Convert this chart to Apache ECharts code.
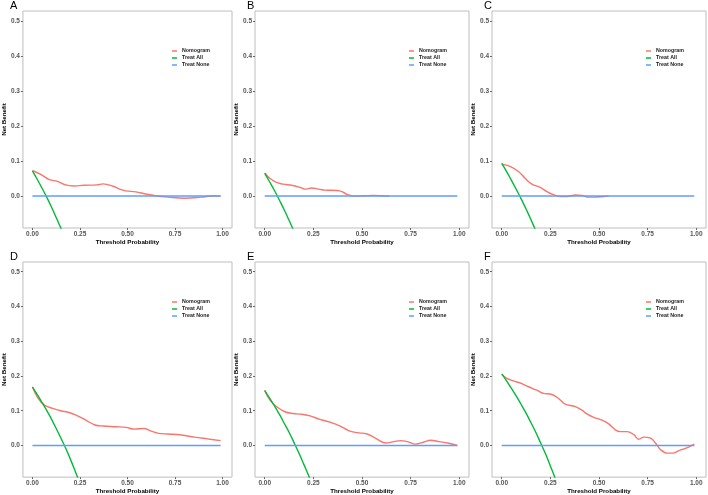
<!DOCTYPE html>
<html>
<head>
<meta charset="utf-8">
<script src="https://cdn.jsdelivr.net/npm/echarts@6/dist/echarts.min.js"></script>
<style>
html,body{margin:0;padding:0;background:#fff;}
#c{width:708px;height:495px;}
</style>
</head>
<body>
<div id="c"></div>
<script>
// ---- data ----
const panelLabels = ['A', 'B', 'C', 'D', 'E', 'F'];
const seriesNames = ['Nomogram', 'Treat All', 'Treat None'];
const xTicks = [0, 0.25, 0.5, 0.75, 1];
const yTicks = [0, 0.1, 0.2, 0.3, 0.4, 0.5];
const xAxisTitle = 'Threshold Probability';
const yAxisTitle = 'Net Benefit';

const nomoA = [[0,0.073],[0.046,0.061],[0.089,0.047],[0.132,0.042],[0.175,0.032],[0.218,0.029],[0.27,0.031],[0.338,0.032],[0.372,0.035],[0.424,0.028],[0.458,0.020],[0.492,0.015],[0.544,0.012],[0.595,0.006],[0.647,0.001],[0.715,-0.003],[0.80,-0.006],[0.887,-0.003],[0.955,0.001],[0.99,0.0]];
const nomoB = [[0,0.066],[0.026,0.051],[0.06,0.039],[0.095,0.034],[0.138,0.031],[0.181,0.025],[0.207,0.020],[0.241,0.023],[0.276,0.020],[0.31,0.017],[0.371,0.016],[0.397,0.013],[0.422,0.005],[0.457,0.0],[0.509,0.001],[0.56,0.002],[0.603,0.001],[0.64,0.0]];
const nomoC = [[0,0.091],[0.043,0.085],[0.086,0.070],[0.12,0.051],[0.155,0.034],[0.198,0.025],[0.232,0.013],[0.266,0.004],[0.301,-0.001],[0.335,-0.001],[0.378,0.003],[0.412,0.002],[0.447,-0.003],[0.481,-0.003],[0.524,-0.001],[0.55,0.0]];
const nomoD = [[0,0.169],[0.029,0.136],[0.063,0.116],[0.106,0.107],[0.149,0.100],[0.192,0.095],[0.226,0.088],[0.278,0.074],[0.329,0.059],[0.372,0.056],[0.441,0.054],[0.492,0.052],[0.535,0.047],[0.587,0.049],[0.621,0.042],[0.664,0.035],[0.715,0.033],[0.784,0.030],[0.853,0.024],[0.921,0.019],[0.99,0.014]];
const nomoE = [[0,0.159],[0.026,0.131],[0.06,0.112],[0.103,0.097],[0.147,0.092],[0.19,0.090],[0.233,0.085],[0.284,0.075],[0.336,0.067],[0.388,0.056],[0.431,0.043],[0.474,0.037],[0.526,0.033],[0.569,0.021],[0.621,0.007],[0.664,0.011],[0.698,0.014],[0.733,0.011],[0.776,0.004],[0.819,0.010],[0.853,0.015],[0.897,0.011],[0.94,0.007],[0.99,0.0]];
const nomoF = [[0,0.204],[0.026,0.193],[0.06,0.186],[0.103,0.178],[0.137,0.169],[0.18,0.159],[0.215,0.150],[0.249,0.148],[0.275,0.142],[0.301,0.131],[0.326,0.119],[0.378,0.112],[0.412,0.102],[0.438,0.091],[0.473,0.081],[0.515,0.073],[0.55,0.062],[0.584,0.045],[0.61,0.040],[0.644,0.040],[0.679,0.031],[0.704,0.018],[0.73,0.024],[0.765,0.021],[0.79,0.007],[0.816,-0.012],[0.851,-0.022],[0.876,-0.022],[0.911,-0.015],[0.954,-0.006],[0.99,0.004]];

const allA = [[0,0.072],[0.025,0.048],[0.05,0.023],[0.075,-0.003],[0.1,-0.031],[0.125,-0.061],[0.15,-0.092],[0.175,-0.125]];
const allB = [[0,0.065],[0.025,0.041],[0.05,0.016],[0.075,-0.011],[0.1,-0.039],[0.125,-0.069],[0.15,-0.100],[0.175,-0.133]];
const allC = [[0,0.093],[0.025,0.070],[0.05,0.045],[0.075,0.019],[0.1,-0.008],[0.125,-0.037],[0.15,-0.067],[0.175,-0.099],[0.2,-0.134]];
const allD = [[0,0.168],[0.025,0.147],[0.05,0.124],[0.075,0.101],[0.1,0.076],[0.125,0.049],[0.15,0.021],[0.175,-0.008],[0.2,-0.040],[0.225,-0.074],[0.25,-0.109]];
const allE = [[0,0.158],[0.025,0.136],[0.05,0.114],[0.075,0.090],[0.1,0.064],[0.125,0.038],[0.15,0.009],[0.175,-0.021],[0.2,-0.053],[0.225,-0.086],[0.25,-0.123]];
const allF = [[0,0.206],[0.025,0.186],[0.05,0.164],[0.075,0.142],[0.1,0.118],[0.125,0.093],[0.15,0.066],[0.175,0.038],[0.2,0.007],[0.225,-0.024],[0.25,-0.059],[0.275,-0.095],[0.3,-0.134]];

const treatNone = [[0,0],[0.99,0]];

const nomoData = [nomoA, nomoB, nomoC, nomoD, nomoE, nomoF];
const allData = [allA, allB, allC, allD, allE, allF];

// ---- layout ----
const colors = ['#F8766D', '#00BA38', '#619CFF'];
const colLeft = [18, 255, 492];
const rowTop = [11, 262];
const gW = 214, gH = 217;
const FONT = '"Liberation Sans", Arial, sans-serif';

const grid = [], xAxis = [], yAxis = [], series = [], legend = [], title = [];
for (let i = 0; i < 6; i++) {
  const c = i % 3, r = Math.floor(i / 3);
  const L = colLeft[c], T = rowTop[r];
  grid.push({left: L, top: T, width: gW, height: gH, show: true, borderColor: '#BEBEBE', borderWidth: 1, backgroundColor: '#fff'});
  xAxis.push({
    type: 'value', gridIndex: i, min: -0.05, max: 1.05, position: 'bottom',
    name: xAxisTitle, nameLocation: 'middle', nameGap: 9,
    nameTextStyle: {fontFamily: FONT, fontSize: 6.2, fontWeight: 'bold', color: '#000'},
    axisLine: {show: false, onZero: false}, splitLine: {show: false},
    axisTick: {show: true, length: 2, lineStyle: {color: '#666'}, customValues: xTicks},
    axisLabel: {fontFamily: FONT, fontSize: 6.5, fontWeight: 'bold', color: '#555', margin: 3, customValues: xTicks,
      formatter: v => v.toFixed(2)}
  });
  yAxis.push({
    type: 'value', gridIndex: i, min: -0.091, max: 0.528, position: 'left',
    name: yAxisTitle, nameLocation: 'middle', nameGap: 12,
    nameTextStyle: {fontFamily: FONT, fontSize: 6.2, fontWeight: 'bold', color: '#000'},
    axisLine: {show: false, onZero: false}, splitLine: {show: false},
    axisTick: {show: true, length: 2, lineStyle: {color: '#666'}, customValues: yTicks},
    axisLabel: {fontFamily: FONT, fontSize: 6.5, fontWeight: 'bold', color: '#555', margin: 3, customValues: yTicks,
      formatter: v => v.toFixed(1)}
  });
  series.push({name: seriesNames[0], type: 'line', xAxisIndex: i, yAxisIndex: i, data: nomoData[i],
    smooth: 0.4, showSymbol: false, symbol: 'none', color: colors[0], lineStyle: {width: 1.4, color: colors[0]}, z: 2});
  series.push({name: seriesNames[1], type: 'line', xAxisIndex: i, yAxisIndex: i, data: allData[i],
    smooth: true, showSymbol: false, symbol: 'none', color: colors[1], lineStyle: {width: 1.4, color: colors[1]}, z: 3});
  series.push({name: seriesNames[2], type: 'line', xAxisIndex: i, yAxisIndex: i, data: treatNone,
    showSymbol: false, symbol: 'none', color: colors[2], lineStyle: {width: 1.5, color: colors[2]}, z: 4});
  legend.push({
    data: seriesNames, orient: 'vertical', left: L + 154, top: T + 36.5, padding: 0,
    itemWidth: 5, itemHeight: 1.5, itemGap: 0, icon: 'rect', selectedMode: false,
    textStyle: {fontFamily: FONT, fontSize: 5.3, fontWeight: 'bold', color: '#1a1a1a', lineHeight: 7}
  });
  title.push({text: panelLabels[i], left: L - 8, top: T - 11, padding: 0,
    textStyle: {fontFamily: FONT, fontSize: 11, fontWeight: 'normal', color: '#000'}});
}

const chart = echarts.init(document.getElementById('c'), null, {renderer: 'canvas'});
chart.setOption({animation: false, backgroundColor: '#fff', grid, xAxis, yAxis, series, legend, title});
</script>
</body>
</html>
